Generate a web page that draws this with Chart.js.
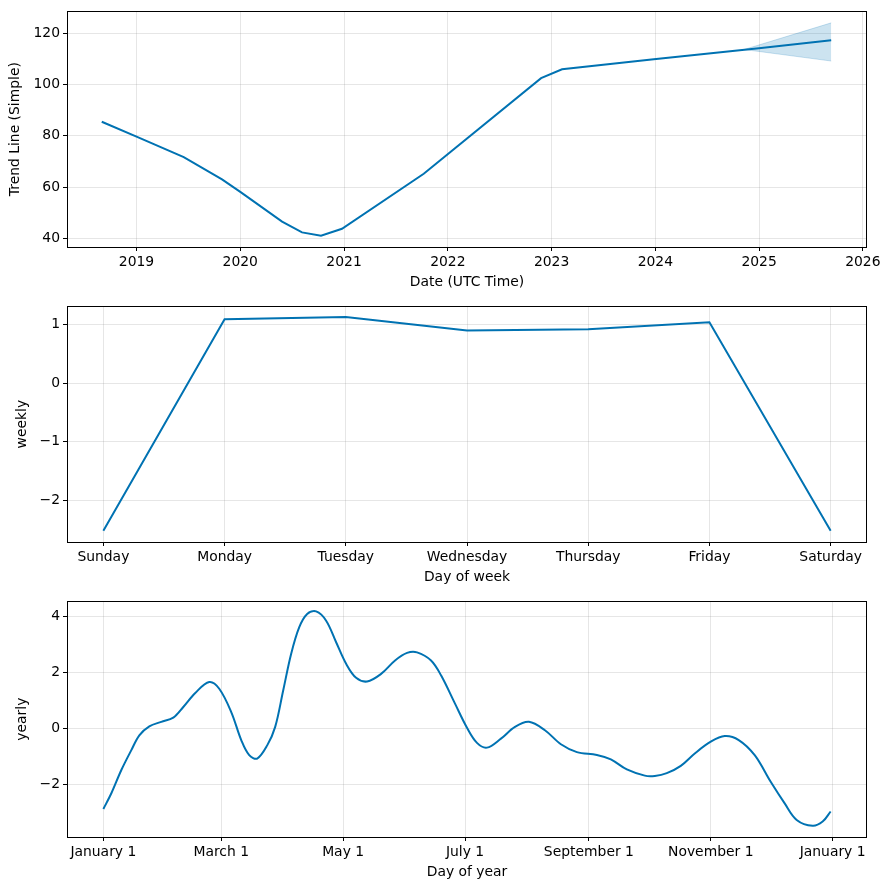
<!DOCTYPE html>
<html lang="en">

<head>
    <meta charset="UTF-8">
    <title>Prophet - componentes</title>
    <script src="https://cdn.jsdelivr.net/npm/chart.js"></script>
    <style>
        body { margin: 0; background: #fff; }
        .painel { position: absolute; left: 0; width: 889px; height: 295px; }
    </style>
</head>

<body>
    <div class="painel" style="top: 0px;"><canvas id="graficoTendencia"></canvas></div>
    <div class="painel" style="top: 295px;"><canvas id="graficoSemanal"></canvas></div>
    <div class="painel" style="top: 590px;"><canvas id="graficoAnual"></canvas></div>
    <script>
        // Tendencia (anos decimais)
        const trendYears = [2018.665, 2019.0, 2019.455, 2019.824, 2020.0, 2020.403, 2020.595, 2020.778, 2020.98, 2021.768, 2022.899, 2023.101, 2023.985, 2024.998, 2025.695];
        const trendValues = [85.5, 79.7, 71.7, 63.0, 58.1, 46.5, 42.3, 41.0, 43.7, 65.2, 102.5, 106.0, 109.9, 114.2, 117.3];
        const bandYears = [2024.855, 2025.695];
        const bandUpper = [113.7, 124.1];
        const bandLower = [113.7, 109.2];
        const trendXTicks = [2019, 2020, 2021, 2022, 2023, 2024, 2025, 2026];
        const trendYTicks = [40, 60, 80, 100, 120];

        // Semanal
        const dayLabels = ['Sunday', 'Monday', 'Tuesday', 'Wednesday', 'Thursday', 'Friday', 'Saturday'];
        const weeklyValues = [-2.52, 1.09, 1.13, 0.90, 0.92, 1.04, -2.52];
        const weeklyYTicks = [-2, -1, 0, 1];

        // Anual (dia do ano)
        const yearDays = [0, 4, 9, 14, 18, 23, 29, 35, 40, 46, 53, 58, 64, 69, 73, 77, 82, 86, 90, 94, 98, 102, 106.5, 111.5, 116.5, 121.5, 126.5, 132, 139, 146, 152, 157, 164, 169, 176, 182, 187, 192, 199, 206, 213, 221, 229, 237, 247, 254, 262, 271, 276, 282, 289, 296, 304, 311, 318, 326, 334, 341, 347, 355, 360, 364];
        const yearlyValues = [-2.87, -2.31, -1.48, -0.77, -0.24, 0.08, 0.24, 0.39, 0.77, 1.27, 1.66, 1.42, 0.59, -0.41, -0.95, -1.07, -0.6, 0.06, 1.36, 2.67, 3.61, 4.09, 4.18, 3.85, 3.08, 2.31, 1.81, 1.68, 1.95, 2.43, 2.70, 2.72, 2.43, 1.90, 0.89, 0.03, -0.51, -0.68, -0.36, 0.06, 0.24, -0.06, -0.56, -0.84, -0.94, -1.10, -1.46, -1.68, -1.69, -1.59, -1.33, -0.89, -0.47, -0.27, -0.41, -0.95, -1.90, -2.67, -3.26, -3.47, -3.32, -2.96];
        const monthTicks = [0, 59, 120, 181, 243, 304, 365];
        const monthLabels = ['January 1', 'March 1', 'May 1', 'July 1', 'September 1', 'November 1', 'January 1'];
        const yearlyYTicks = [-2, 0, 2, 4];

        const fonte = { family: 'DejaVu Sans', size: 13.9 };
        const azul = '#0072B2';
        const cinza = 'rgba(128, 128, 128, 0.2)';
        const menos = v => String(v).replace('-', '\u2212');

        // moldura preta em volta da area do grafico
        const moldura = {
            id: 'moldura',
            afterDraw(chart) {
                const { ctx, chartArea: a } = chart;
                ctx.save();
                ctx.strokeStyle = '#000';
                ctx.lineWidth = 1;
                ctx.strokeRect(Math.round(a.left) + 0.5, Math.round(a.top) + 0.5, Math.round(a.right - a.left) - 1, Math.round(a.bottom - a.top));
                ctx.restore();
            }
        };

        function eixoX(min, max, ticks, rotulo, formato) {
            return {
                type: 'linear', min: min, max: max,
                afterBuildTicks: s => { s.ticks = ticks.map(v => ({ value: v })); },
                afterFit: s => { s.height = 48; },
                grid: { color: cinza, tickColor: '#000', tickLength: 4 },
                border: { display: false },
                ticks: { color: '#000', font: fonte, padding: 3, maxRotation: 0, autoSkip: false, callback: formato },
                title: { display: true, text: rotulo, color: '#000', font: fonte, padding: { top: 0, bottom: 4.4 } }
            };
        }

        function eixoY(min, max, ticks, rotulo, recuo) {
            return {
                type: 'linear', min: min, max: max,
                afterBuildTicks: s => { s.ticks = ticks.map(v => ({ value: v })); },
                afterFit: s => { s.width = 67; },
                grid: { color: cinza, tickColor: '#000', tickLength: 4 },
                border: { display: false },
                ticks: { color: '#000', font: fonte, padding: 3, callback: menos },
                title: { display: true, text: rotulo, color: '#000', font: fonte, padding: { top: recuo, bottom: 0 } }
            };
        }

        const opcoesBase = {
            responsive: true,
            maintainAspectRatio: false,
            animation: false,
            layout: { padding: { top: 10, right: 22, left: 0, bottom: 0 } },
            plugins: { legend: { display: false }, tooltip: { enabled: false } }
        };

        new Chart(document.getElementById('graficoTendencia'), {
            type: 'line',
            data: {
                datasets: [{
                    data: trendYears.map((x, i) => ({ x: x, y: trendValues[i] })),
                    borderColor: azul, borderWidth: 2, pointRadius: 0, fill: false
                }, {
                    data: bandYears.map((x, i) => ({ x: x, y: bandUpper[i] })),
                    borderColor: 'rgba(0, 114, 178, 0.2)', borderWidth: 1, pointRadius: 0,
                    backgroundColor: 'rgba(0, 114, 178, 0.2)', fill: '+1'
                }, {
                    data: bandYears.map((x, i) => ({ x: x, y: bandLower[i] })),
                    borderColor: 'rgba(0, 114, 178, 0.2)', borderWidth: 1, pointRadius: 0, fill: false
                }]
            },
            options: {
                ...opcoesBase,
                scales: {
                    x: eixoX(2018.33, 2026.04, trendXTicks, 'Date (UTC Time)', v => String(v)),
                    y: eixoY(36.6, 128.6, trendYTicks, 'Trend Line (Simple)', 7.4)
                }
            },
            plugins: [moldura]
        });

        new Chart(document.getElementById('graficoSemanal'), {
            type: 'line',
            data: {
                datasets: [{
                    data: weeklyValues.map((v, i) => ({ x: i, y: v })),
                    borderColor: azul, borderWidth: 2, pointRadius: 0, fill: false
                }]
            },
            options: {
                ...opcoesBase,
                scales: {
                    x: eixoX(-0.3, 6.3, dayLabels.map((d, i) => i), 'Day of week', v => dayLabels[v]),
                    y: eixoY(-2.71, 1.31, weeklyYTicks, 'weekly', 14.4)
                }
            },
            plugins: [moldura]
        });

        new Chart(document.getElementById('graficoAnual'), {
            type: 'line',
            data: {
                datasets: [{
                    data: yearDays.map((d, i) => ({ x: d, y: yearlyValues[i] })),
                    borderColor: azul, borderWidth: 2, pointRadius: 0, fill: false,
                    tension: 0.35
                }]
            },
            options: {
                ...opcoesBase,
                scales: {
                    x: eixoX(-18.2, 382.2, monthTicks, 'Day of year', (v, i) => monthLabels[i]),
                    y: eixoY(-3.87, 4.54, yearlyYTicks, 'yearly', 14.4)
                }
            },
            plugins: [moldura]
        });
    </script>
</body>

</html>
